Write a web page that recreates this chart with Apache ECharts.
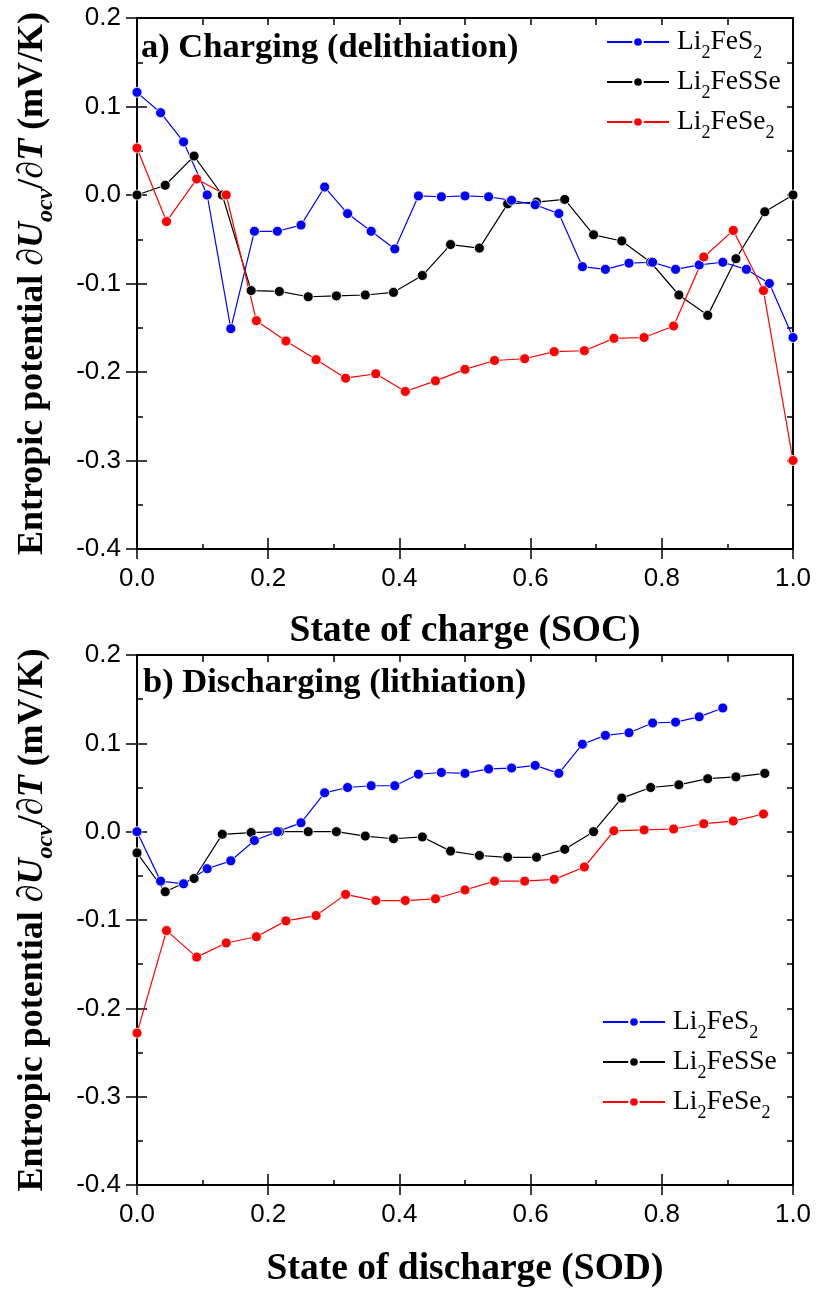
<!DOCTYPE html>
<html>
<head>
<meta charset="utf-8">
<script src="https://cdn.jsdelivr.net/npm/echarts@6/dist/echarts.min.js"></script>
<style>
html,body{margin:0;padding:0;background:#fff;}
#chart{width:816px;height:1293px;}
</style>
</head>
<body>
<div id="chart"></div>
<script>
// ---------- data ----------
var seriesNames = ['Li2FeS2', 'Li2FeSSe', 'Li2FeSe2'];
var xTicks = ['0.0', '0.2', '0.4', '0.6', '0.8', '1.0'];
var yTicks = ['-0.4', '-0.3', '-0.2', '-0.1', '0.0', '0.1', '0.2'];

// (a) Charging
var chgS2_x = [0, 0.036, 0.071, 0.107, 0.143, 0.179, 0.214, 0.25, 0.286, 0.321, 0.357, 0.393, 0.429, 0.464, 0.5, 0.536, 0.571, 0.607, 0.643, 0.679, 0.714, 0.75, 0.786, 0.821, 0.857, 0.893, 0.929, 0.964, 1.0];
var chgS2_y = [0.116, 0.093, 0.060, 0.0, -0.151, -0.041, -0.041, -0.034, 0.009, -0.021, -0.041, -0.061, -0.001, -0.002, -0.001, -0.002, -0.006, -0.011, -0.021, -0.081, -0.084, -0.077, -0.076, -0.084, -0.079, -0.076, -0.084, -0.100, -0.161];
var chgSSe_x = [0, 0.043, 0.087, 0.13, 0.174, 0.217, 0.261, 0.304, 0.348, 0.391, 0.435, 0.478, 0.522, 0.565, 0.609, 0.652, 0.696, 0.739, 0.783, 0.826, 0.87, 0.913, 0.957, 1.0];
var chgSSe_y = [0.0, 0.011, 0.044, 0.0, -0.108, -0.109, -0.115, -0.114, -0.113, -0.110, -0.091, -0.056, -0.060, -0.010, -0.008, -0.005, -0.045, -0.052, -0.076, -0.113, -0.136, -0.072, -0.019, 0.0];
var chgSe2_x = [0, 0.045, 0.091, 0.136, 0.182, 0.227, 0.273, 0.318, 0.364, 0.409, 0.455, 0.5, 0.545, 0.591, 0.636, 0.682, 0.727, 0.773, 0.818, 0.864, 0.909, 0.955, 1.0];
var chgSe2_y = [0.053, -0.030, 0.018, 0.0, -0.142, -0.165, -0.186, -0.207, -0.202, -0.222, -0.210, -0.197, -0.187, -0.185, -0.177, -0.176, -0.162, -0.161, -0.148, -0.070, -0.040, -0.108, -0.300];

// (b) Discharging
var disS2_x = [0, 0.036, 0.071, 0.107, 0.143, 0.179, 0.214, 0.25, 0.286, 0.321, 0.357, 0.393, 0.429, 0.464, 0.5, 0.536, 0.571, 0.607, 0.643, 0.679, 0.714, 0.75, 0.786, 0.821, 0.857, 0.893];
var disS2_y = [0.0, -0.056, -0.059, -0.042, -0.033, -0.010, 0.0, 0.010, 0.044, 0.050, 0.052, 0.052, 0.065, 0.067, 0.066, 0.071, 0.072, 0.075, 0.066, 0.099, 0.109, 0.112, 0.123, 0.124, 0.130, 0.140];
var disSSe_x = [0, 0.043, 0.087, 0.13, 0.174, 0.217, 0.261, 0.304, 0.348, 0.391, 0.435, 0.478, 0.522, 0.565, 0.609, 0.652, 0.696, 0.739, 0.783, 0.826, 0.87, 0.913, 0.957];
var disSSe_y = [-0.024, -0.068, -0.053, -0.003, -0.001, 0.0, 0.0, 0.0, -0.005, -0.008, -0.006, -0.022, -0.027, -0.029, -0.029, -0.020, 0.0, 0.038, 0.050, 0.053, 0.060, 0.062, 0.066];
var disSe2_x = [0, 0.045, 0.091, 0.136, 0.182, 0.227, 0.273, 0.318, 0.364, 0.409, 0.455, 0.5, 0.545, 0.591, 0.636, 0.682, 0.727, 0.773, 0.818, 0.864, 0.909, 0.955];
var disSe2_y = [-0.228, -0.112, -0.142, -0.126, -0.119, -0.101, -0.095, -0.071, -0.078, -0.078, -0.076, -0.066, -0.056, -0.056, -0.054, -0.040, 0.001, 0.002, 0.003, 0.009, 0.012, 0.020];

var colors = {'Li2FeS2': '#0000ff', 'Li2FeSSe': '#000000', 'Li2FeSe2': '#ff0000'};

function zip(xs, ys) { return xs.map(function (x, i) { return [x, ys[i]]; }); }

// ---------- styling ----------
var SERIF = 'Liberation Serif, Times New Roman, serif';
var SANS = 'Liberation Sans, Arial, sans-serif';
var grids = [
  {left: 134, right: 23, top: 18, height: 531},
  {left: 134, right: 23, top: 655, height: 530}
];

function fmtX(v) { var s = v.toFixed(1); return xTicks.indexOf(s) >= 0 ? s : ''; }
function fmtY(v) { var s = Math.abs(v) < 1e-9 ? '0.0' : v.toFixed(1); return yTicks.indexOf(s) >= 0 ? s : ''; }

var axLine = {show: true, onZero: false, lineStyle: {color: '#000', width: 2}};
var tickStyle = {color: '#000', width: 1.5};

var yNameRich = {
  i: {fontFamily: SERIF, fontWeight: 'bold', fontStyle: 'italic', fontSize: 36, lineHeight: 50, color: '#000'},
  sub: {fontFamily: SERIF, fontWeight: 'bold', fontStyle: 'italic', fontSize: 24, lineHeight: 50, verticalAlign: 'bottom', color: '#000'}
};
var yName = 'Entropic potential \u2202{i|U}{sub|ocv}/\u2202{i|T} (mV/K)';

var xAxes = [], yAxes = [];
[0, 1].forEach(function (g) {
  var xname = g === 0 ? 'State of charge (SOC)' : 'State of discharge (SOD)';
  xAxes.push({
    type: 'value', gridIndex: g, position: 'bottom', min: 0, max: 1, interval: 0.2,
    axisLine: axLine, axisTick: {show: true, inside: false, length: 10, lineStyle: tickStyle},
    splitLine: {show: false},
    axisLabel: {show: true, margin: 17, fontFamily: SANS, fontSize: 26, color: '#000', formatter: fmtX},
    name: xname, nameLocation: 'middle', nameGap: g === 0 ? 63 : 65,
    nameTextStyle: {fontFamily: SERIF, fontWeight: 'bold', fontSize: 37.5, lineHeight: 38, color: '#000'}
  });
  xAxes.push({
    type: 'value', gridIndex: g, position: 'bottom', min: 0, max: 1, interval: 0.2,
    axisLine: axLine, axisTick: {show: true, inside: true, length: 11, lineStyle: tickStyle},
    minorTick: {show: true, splitNumber: 2, length: 5, lineStyle: tickStyle},
    splitLine: {show: false}, minorSplitLine: {show: false}, axisLabel: {show: false}
  });
  xAxes.push({
    type: 'value', gridIndex: g, position: 'top', min: 0, max: 1, interval: 0.1,
    axisLine: axLine, axisTick: {show: true, inside: true, length: 7, lineStyle: tickStyle},
    splitLine: {show: false}, axisLabel: {show: false}
  });
  yAxes.push({
    type: 'value', gridIndex: g, position: 'left', min: -0.4, max: 0.2, interval: 0.1,
    axisLine: axLine, axisTick: {show: true, inside: false, length: 11, lineStyle: tickStyle},
    splitLine: {show: false},
    axisLabel: {show: true, margin: 16, fontFamily: SANS, fontSize: 26, color: '#000', formatter: fmtY},
    name: yName, nameLocation: 'middle', nameGap: 79, nameRotate: 90,
    nameTextStyle: {fontFamily: SERIF, fontWeight: 'bold', fontSize: 36, lineHeight: 50, color: '#000', rich: yNameRich}
  });
  yAxes.push({
    type: 'value', gridIndex: g, position: 'left', min: -0.4, max: 0.2, interval: 0.1,
    axisLine: axLine, axisTick: {show: true, inside: true, length: 10, lineStyle: tickStyle},
    minorTick: {show: true, splitNumber: 2, length: 6, lineStyle: tickStyle},
    splitLine: {show: false}, minorSplitLine: {show: false}, axisLabel: {show: false}
  });
  yAxes.push({
    type: 'value', gridIndex: g, position: 'right', min: -0.4, max: 0.2, interval: 0.05,
    axisLine: axLine, axisTick: {show: true, inside: true, length: 6, lineStyle: tickStyle},
    splitLine: {show: false}, axisLabel: {show: false}
  });
});

function mkSeries(name, data, g) {
  return {
    name: name, type: 'line', xAxisIndex: g * 3, yAxisIndex: g * 3,
    data: data, symbol: 'circle', symbolSize: 10,
    lineStyle: {color: colors[name], width: 1.2},
    itemStyle: {color: colors[name], borderColor: '#fff', borderWidth: 0.8},
    emphasis: {disabled: true}, z: 2
  };
}

var series = [
  mkSeries('Li2FeSSe', zip(chgSSe_x, chgSSe_y), 0),
  mkSeries('Li2FeS2', zip(chgS2_x, chgS2_y), 0),
  mkSeries('Li2FeSe2', zip(chgSe2_x, chgSe2_y), 0),
  mkSeries('Li2FeSSe', zip(disSSe_x, disSSe_y), 1),
  mkSeries('Li2FeS2', zip(disS2_x, disS2_y), 1),
  mkSeries('Li2FeSe2', zip(disSe2_x, disSe2_y), 1)
];

function legendFmt(name) { return '{p|}' + name.replace(/(\d)/g, '{s|$1}'); }
function mkLegend(left, top) {
  return {
    data: seriesNames, orient: 'vertical', left: left, top: top, padding: 0, itemGap: 0,
    itemWidth: 62, itemHeight: 12, selectedMode: false,
    formatter: legendFmt,
    textStyle: {fontFamily: SERIF, fontSize: 27.5, lineHeight: 40, color: '#000',
      rich: {
        p: {width: 3, lineHeight: 40},
        s: {fontFamily: SERIF, fontSize: 18, lineHeight: 40, verticalAlign: 'bottom', color: '#000'}
      }}
  };
}

var option = {
  animation: false,
  backgroundColor: '#fff',
  title: [
    {text: 'a) Charging (delithiation)', left: 141, top: 28, padding: 0,
     textStyle: {fontFamily: SERIF, fontWeight: 'bold', fontSize: 34.5, lineHeight: 40, color: '#000'}},
    {text: 'b) Discharging (lithiation)', left: 143, top: 663, padding: 0,
     textStyle: {fontFamily: SERIF, fontWeight: 'bold', fontSize: 34.5, lineHeight: 40, color: '#000'}}
  ],
  legend: [mkLegend(606, 22), mkLegend(602, 1002)],
  grid: grids,
  xAxis: xAxes,
  yAxis: yAxes,
  series: series
};

var chart = echarts.init(document.getElementById('chart'), null, {renderer: 'canvas'});
chart.setOption(option);
</script>
</body>
</html>
